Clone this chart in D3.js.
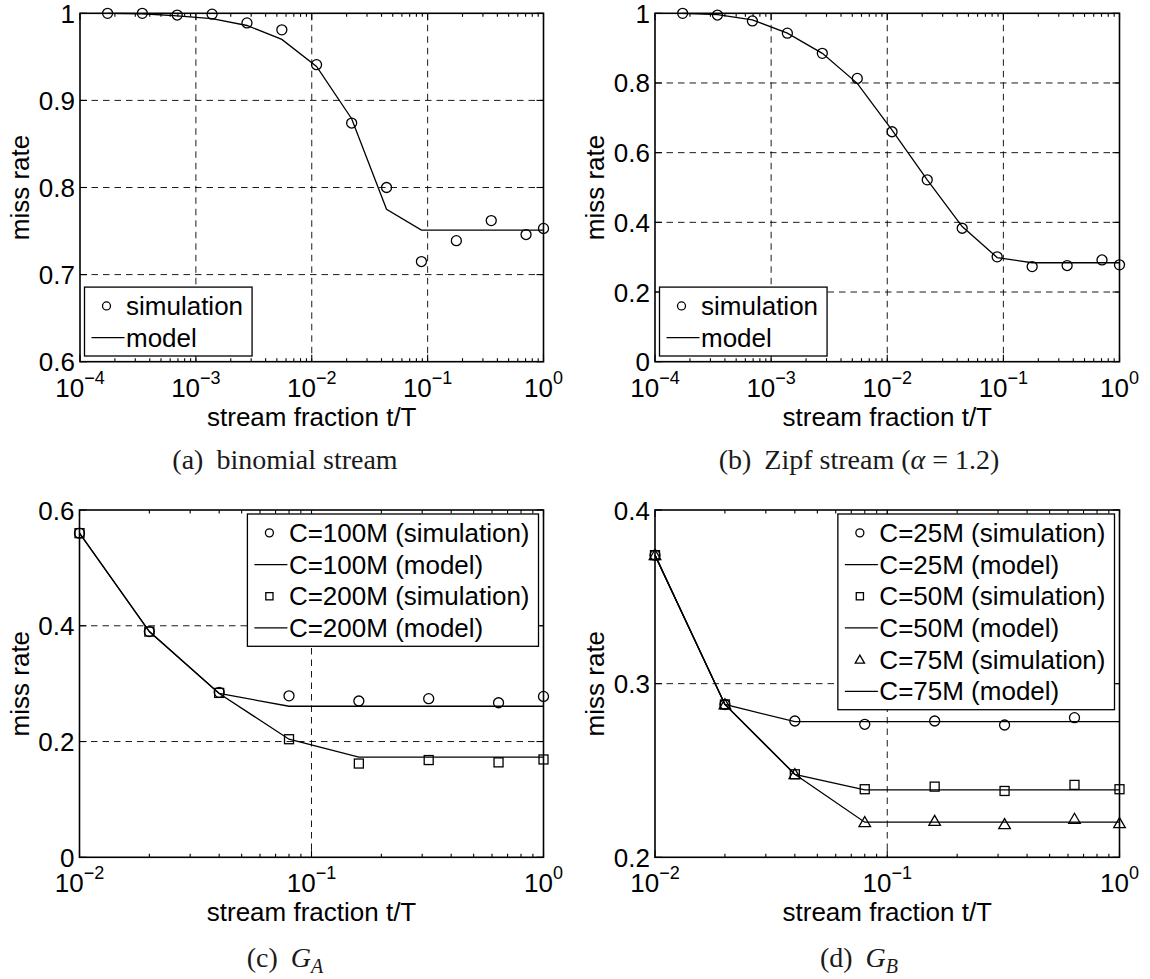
<!DOCTYPE html>
<html>
<head>
<meta charset="utf-8">
<script src="https://cdn.jsdelivr.net/npm/d3@7"></script>
<style>
  body { margin: 0; background: #fff; }
  svg text { font-family: "Liberation Sans", Arial, Helvetica, sans-serif; fill: #000; }
</style>
</head>
<body>
<script>
// stream fraction t/T for the top row (halving steps) and the bottom row
let xFine = [1.73e-4, 3.45e-4, 6.9e-4, 1.38e-3, 2.76e-3, 5.52e-3, 1.1e-2, 2.21e-2, 4.42e-2, 8.84e-2, 0.177, 0.354, 0.707, 1.0];
let xCoarse = [0.01, 0.02, 0.04, 0.08, 0.16, 0.32, 0.64, 1.0];

// (a) binomial stream
let binomSim = [1.0, 1.0, 0.998, 0.999, 0.989, 0.981, 0.941, 0.874, 0.800, 0.715, 0.739, 0.762, 0.746, 0.753];
let binomModel = [1.0, 0.9995, 0.997, 0.994, 0.986, 0.970, 0.939, 0.879, 0.775, 0.751, 0.751, 0.751, 0.751, 0.751];

// (b) zipf stream
let zipfSim = [1.0, 0.995, 0.978, 0.943, 0.885, 0.813, 0.660, 0.522, 0.383, 0.301, 0.273, 0.276, 0.292, 0.278];
let zipfModel = [1.0, 0.996, 0.981, 0.943, 0.885, 0.799, 0.665, 0.522, 0.388, 0.299, 0.284, 0.284, 0.284, 0.284];

// (c) G_A
let gaSim100 = [0.560, 0.390, 0.285, 0.279, 0.270, 0.274, 0.267, 0.278];
let gaModel100 = [0.560, 0.390, 0.283, 0.261, 0.261, 0.261, 0.261, 0.261];
let gaSim200 = [0.560, 0.390, 0.284, 0.204, 0.162, 0.168, 0.164, 0.169];
let gaModel200 = [0.560, 0.390, 0.283, 0.204, 0.173, 0.173, 0.173, 0.173];

// (d) G_B  (no 25M simulation point at t/T = 1)
let gbSim25 = [0.374, 0.288, 0.2785, 0.2766, 0.2785, 0.2762, 0.2804, null];
let gbModel25 = [0.374, 0.288, 0.2781, 0.2781, 0.2781, 0.2781, 0.2781, 0.2781];
let gbSim50 = [0.374, 0.288, 0.2478, 0.2392, 0.2407, 0.2382, 0.2417, 0.2392];
let gbModel50 = [0.374, 0.288, 0.2478, 0.2388, 0.2388, 0.2388, 0.2388, 0.2388];
let gbSim75 = [0.374, 0.288, 0.2478, 0.2202, 0.2209, 0.219, 0.2221, 0.2196];
let gbModel75 = [0.374, 0.288, 0.2478, 0.2202, 0.2202, 0.2202, 0.2202, 0.2202];

let yTicksA = [0.6, 0.7, 0.8, 0.9, 1];
let yTicksB = [0, 0.2, 0.4, 0.6, 0.8, 1];
let yTicksC = [0, 0.2, 0.4, 0.6];
let yTicksD = [0.2, 0.3, 0.4];

let W = 1150, H = 979;
let svg = d3.select("body").append("svg").attr("width", W).attr("height", H);
svg.append("rect").attr("width", W).attr("height", H).attr("fill", "#fff");

let zip = (xs, ys) => xs.map((v, i) => ({ x: v, y: ys[i] })).filter(d => d.y != null);

let panels = [
  {
    left: 80, right: 543.5, top: 13.3, bottom: 361.7, xDomain: [1e-4, 1], yDomain: [0.6, 1], yTicks: yTicksA,
    series: [
      { type: "line", data: zip(xFine, binomModel) },
      { type: "circle", data: zip(xFine, binomSim) }
    ],
    legend: { pos: "bl", items: [["circle", "simulation"], ["line", "model"]] },
    caption: { cx: 285, cy: 460, label: "(a)", parts: [["binomial stream", ""]] }
  },
  {
    left: 655, right: 1119.5, top: 13.3, bottom: 361.7, xDomain: [1e-4, 1], yDomain: [0, 1], yTicks: yTicksB,
    series: [
      { type: "line", data: zip(xFine, zipfModel) },
      { type: "circle", data: zip(xFine, zipfSim) }
    ],
    legend: { pos: "bl", items: [["circle", "simulation"], ["line", "model"]] },
    caption: { cx: 859, cy: 460, label: "(b)", parts: [["Zipf stream (", ""], ["α", "it"], [" = 1.2)", ""]] }
  },
  {
    left: 79.5, right: 543.5, top: 510, bottom: 857.3, xDomain: [1e-2, 1], yDomain: [0, 0.6], yTicks: yTicksC,
    series: [
      { type: "line", data: zip(xCoarse, gaModel100) },
      { type: "line", data: zip(xCoarse, gaModel200) },
      { type: "circle", data: zip(xCoarse, gaSim100) },
      { type: "square", data: zip(xCoarse, gaSim200) }
    ],
    legend: { pos: "tr", items: [["circle", "C=100M (simulation)"], ["line", "C=100M (model)"], ["square", "C=200M (simulation)"], ["line", "C=200M (model)"]] },
    caption: { cx: 285, cy: 958, label: "(c)", parts: [["G", "it"], ["A", "sub"]] }
  },
  {
    left: 655, right: 1119.5, top: 510, bottom: 857.3, xDomain: [1e-2, 1], yDomain: [0.2, 0.4], yTicks: yTicksD,
    series: [
      { type: "line", data: zip(xCoarse, gbModel25) },
      { type: "line", data: zip(xCoarse, gbModel50) },
      { type: "line", data: zip(xCoarse, gbModel75) },
      { type: "circle", data: zip(xCoarse, gbSim25) },
      { type: "square", data: zip(xCoarse, gbSim50) },
      { type: "triangle", data: zip(xCoarse, gbSim75) }
    ],
    legend: { pos: "tr", items: [["circle", "C=25M (simulation)"], ["line", "C=25M (model)"], ["square", "C=50M (simulation)"], ["line", "C=50M (model)"], ["triangle", "C=75M (simulation)"], ["line", "C=75M (model)"]] },
    caption: { cx: 859, cy: 958, label: "(d)", parts: [["G", "it"], ["B", "sub"]] }
  }
];

// draw one marker centred at (cx, cy)
function marker(g, type, cx, cy, s) {
  if (type === "circle") {
    g.append("circle").attr("cx", cx).attr("cy", cy).attr("r", 5 * s)
      .attr("fill", "none").attr("stroke", "#000").attr("stroke-width", 1.3);
  } else if (type === "square") {
    let a = 9 * s;
    g.append("rect").attr("x", cx - a / 2).attr("y", cy - a / 2).attr("width", a).attr("height", a)
      .attr("fill", "none").attr("stroke", "#000").attr("stroke-width", 1.3);
  } else if (type === "triangle") {
    g.append("path").attr("d", d3.symbol().type(d3.symbolTriangle).size(58 * s * s)())
      .attr("transform", `translate(${cx},${cy + 1 * s})`)
      .attr("fill", "none").attr("stroke", "#000").attr("stroke-width", 1.3);
  }
}

panels.forEach(function (p) {
  let x = d3.scaleLog().domain(p.xDomain).range([p.left, p.right]);
  let y = d3.scaleLinear().domain(p.yDomain).range([p.bottom, p.top]);
  let g = svg.append("g");

  let e0 = Math.round(Math.log10(p.xDomain[0])), e1 = Math.round(Math.log10(p.xDomain[1]));
  let xMajor = d3.range(e0, e1 + 1);
  let xMinor = [];
  d3.range(e0, e1).forEach(e => d3.range(2, 10).forEach(k => xMinor.push(k * Math.pow(10, e))));

  // dashed grid at interior major ticks
  let grid = g.append("g").attr("stroke", "#000").attr("stroke-width", 0.9).attr("stroke-dasharray", "6.5,5");
  xMajor.slice(1, -1).forEach(e => {
    let xx = x(Math.pow(10, e));
    grid.append("line").attr("x1", xx).attr("x2", xx).attr("y1", p.top).attr("y2", p.bottom);
  });
  p.yTicks.slice(1, -1).forEach(v => {
    grid.append("line").attr("x1", p.left).attr("x2", p.right).attr("y1", y(v)).attr("y2", y(v));
  });

  // data
  let line = d3.line().x(d => x(d.x)).y(d => y(d.y));
  p.series.filter(s => s.type === "line").forEach(s => {
    g.append("path").attr("d", line(s.data)).attr("fill", "none").attr("stroke", "#000").attr("stroke-width", 1.3);
  });

  // frame and ticks
  let ax = g.append("g").attr("stroke", "#000");
  ax.append("rect").attr("x", p.left).attr("y", p.top).attr("width", p.right - p.left).attr("height", p.bottom - p.top)
    .attr("fill", "none").attr("stroke-width", 1.6);
  xMajor.forEach(e => {
    let xx = x(Math.pow(10, e));
    ax.append("line").attr("x1", xx).attr("x2", xx).attr("y1", p.bottom).attr("y2", p.bottom - 7).attr("stroke-width", 1.1);
    ax.append("line").attr("x1", xx).attr("x2", xx).attr("y1", p.top).attr("y2", p.top + 7).attr("stroke-width", 1.1);
  });
  xMinor.forEach(v => {
    ax.append("line").attr("x1", x(v)).attr("x2", x(v)).attr("y1", p.bottom).attr("y2", p.bottom - 3.5).attr("stroke-width", 1.1);
    ax.append("line").attr("x1", x(v)).attr("x2", x(v)).attr("y1", p.top).attr("y2", p.top + 3.5).attr("stroke-width", 1.1);
  });
  p.yTicks.forEach(v => {
    ax.append("line").attr("x1", p.left).attr("x2", p.left + 7).attr("y1", y(v)).attr("y2", y(v)).attr("stroke-width", 1.1);
    ax.append("line").attr("x1", p.right).attr("x2", p.right - 7).attr("y1", y(v)).attr("y2", y(v)).attr("stroke-width", 1.1);
  });

  // markers (not clipped, drawn over the frame)
  p.series.filter(s => s.type !== "line").forEach(s => {
    s.data.forEach(d => marker(g, s.type, x(d.x), y(d.y), 1));
  });

  // tick labels
  xMajor.forEach(e => {
    let t = g.append("text").attr("x", x(Math.pow(10, e))).attr("y", p.bottom + 35)
      .attr("text-anchor", "middle").attr("font-size", 26);
    t.append("tspan").text("10");
    t.append("tspan").attr("dy", -13).attr("font-size", 18).text(e < 0 ? "\u2212" + (-e) : String(e));
  });
  p.yTicks.forEach(v => {
    g.append("text").attr("x", p.left - 5).attr("y", y(v) + 9.5).attr("text-anchor", "end")
      .attr("font-size", 26).text(d3.format("~g")(v));
  });

  // axis labels
  let cx = (p.left + p.right) / 2, cy = (p.top + p.bottom) / 2;
  g.append("text").attr("x", cx).attr("y", p.bottom + 64).attr("text-anchor", "middle")
    .attr("font-size", 26).text("stream fraction t/T");
  g.append("text").attr("transform", `translate(${p.left - 51},${cy}) rotate(-90)`)
    .attr("text-anchor", "middle").attr("font-size", 26).text("miss rate");

  // legend
  let rowH = 31.7;
  let lg = g.append("g");
  let box = lg.append("rect").attr("fill", "#fff").attr("stroke", "#000").attr("stroke-width", 1.3);
  let maxW = 0;
  p.legend.items.forEach((it, i) => {
    let ry = 3 + rowH * (i + 0.5);
    if (it[0] === "line") {
      lg.append("line").attr("x1", 7).attr("x2", 40).attr("y1", ry).attr("y2", ry).attr("stroke", "#000").attr("stroke-width", 1.3);
    } else {
      marker(lg, it[0], 22, ry, 0.8);
    }
    let t = lg.append("text").attr("x", 41.5).attr("y", ry + 9).attr("font-size", 26).text(it[1]);
    maxW = Math.max(maxW, t.node().getComputedTextLength());
  });
  let bw = 41.5 + maxW + 9, bh = rowH * p.legend.items.length + 5.5;
  box.attr("width", bw).attr("height", bh);
  if (p.legend.pos === "bl") {
    lg.attr("transform", `translate(${p.left + 4.5},${p.bottom - 5.7 - bh})`);
  } else {
    lg.attr("transform", `translate(${p.right - 5 - bw},${p.top + 4})`);
  }

  // caption
  let c = p.caption;
  let ct = svg.append("text").attr("x", c.cx).attr("y", c.cy + 9).attr("text-anchor", "middle")
    .style("font-family", "'Liberation Serif', 'Times New Roman', serif").attr("font-size", 28).style("fill", "#1a1a1a");
  ct.append("tspan").text(c.label);
  c.parts.forEach((pt, i) => {
    let ts = ct.append("tspan").text(pt[0]);
    if (i === 0) ts.attr("dx", 13);
    if (pt[1] === "it") ts.attr("font-style", "italic");
    if (pt[1] === "sub") ts.attr("font-style", "italic").attr("font-size", 20).attr("dy", 6);
  });
});
</script>
</body>
</html>
